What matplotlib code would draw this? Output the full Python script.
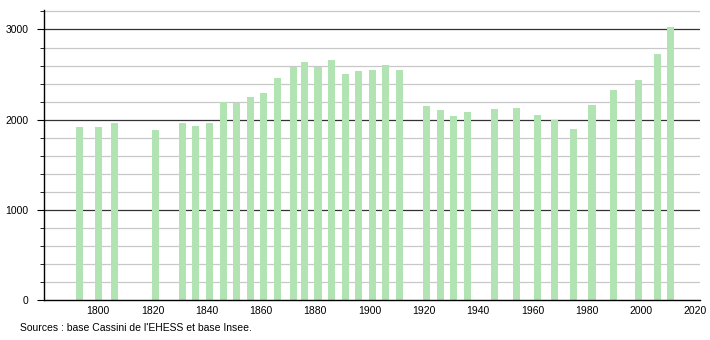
import matplotlib.pyplot as plt
from matplotlib.ticker import MultipleLocator

# census years and population
years = [1793, 1800, 1806, 1821, 1831, 1836, 1841, 1846, 1851, 1856,
         1861, 1866, 1872, 1876, 1881, 1886, 1891, 1896, 1901, 1906,
         1911, 1921, 1926, 1931, 1936, 1946, 1954, 1962, 1968, 1975,
         1982, 1990, 1999, 2006, 2011]
population = [1920, 1920, 1965, 1887, 1965, 1930, 1965, 2200, 2188, 2255,
              2300, 2466, 2589, 2644, 2589, 2666, 2511, 2544, 2555, 2603,
              2555, 2155, 2111, 2044, 2089, 2122, 2133, 2055, 1998, 1900,
              2166, 2333, 2444, 2733, 3033]
x_ticks = [1800, 1820, 1840, 1860, 1880, 1900, 1920, 1940, 1960, 1980, 2000, 2020]
y_ticks = [0, 1000, 2000, 3000]
source = "Sources : base Cassini de l'EHESS et base Insee."

plt.rcParams['font.family'] = ['Liberation Sans', 'DejaVu Sans']

fig = plt.figure(figsize=(7.1, 3.4), dpi=100)
ax = fig.add_axes([44 / 710, 40 / 340, 656 / 710, 290 / 340])

# grid: light every 200, dark every 1000
for v in range(200, 3400, 200):
    color = '#333333' if v % 1000 == 0 else '#c8c8c8'
    ax.axhline(v, color=color, lw=0.9, zorder=0)

ax.bar(years, population, width=2.6, color='#b2e3b2', zorder=2)

ax.set_xlim(1780, 2021.8)
ax.set_ylim(0, 3216)
ax.set_xticks(x_ticks)
ax.set_yticks(y_ticks)
ax.yaxis.set_minor_locator(MultipleLocator(200))
ax.tick_params(axis='x', length=0, labelsize=7.5, pad=4)
ax.tick_params(axis='y', which='major', length=5, labelsize=7.5, pad=6)
ax.tick_params(axis='y', which='minor', length=3)

for side in ['top', 'right']:
    ax.spines[side].set_visible(False)
ax.spines['left'].set_color('black')
ax.spines['bottom'].set_color('black')
ax.spines['left'].set_linewidth(1)
ax.spines['bottom'].set_linewidth(1)

fig.text(20 / 710, 1 - 328 / 340, source, fontsize=7.5, va='center', ha='left')

fig.savefig('out.png', dpi=100)
